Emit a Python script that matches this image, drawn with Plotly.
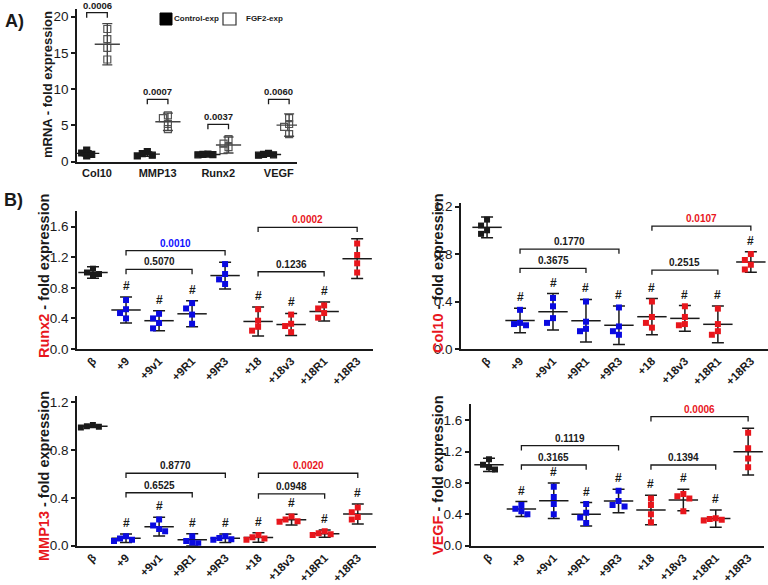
import plotly.graph_objects as go

W, H = 768, 585
FONT = "Liberation Sans, Arial, sans-serif"
BLACK = "#1a1a1a"
BLUE = "#0a0ae0"
RED = "#e8161c"

# ---------------- panel A data ----------------
genes = ["Col10", "MMP13", "Runx2", "VEGF"]
ctrl_points = [[1.6, 1.2, 1.0, 0.8], [1.4, 1.1, 0.9, 0.8], [1.05, 1.0, 0.98, 0.95], [1.15, 1.0, 0.95, 0.9]]
ctrl_mean = [1.15, 1.05, 1.0, 1.0]
ctrl_sd = [0.35, 0.3, 0.06, 0.1]
fgf2_points = [[18.3, 16.9, 15.7, 14.1], [6.4, 6.0, 5.2, 4.5], [3.1, 2.5, 2.0, 1.6], [6.0, 5.2, 4.8, 3.8]]
fgf2_mean = [16.2, 5.5, 2.3, 5.05]
fgf2_sd = [2.85, 1.2, 1.1, 1.55]
gene_pvals = ["0.0006", "0.0007", "0.0037", "0.0060"]
gene_bracket_y = [20.55, 8.6, 5.15, 8.6]

# ---------------- panel B data ----------------
cats = ["β", "+9", "+9v1", "+9R1", "+9R3", "+18", "+18v3", "+18R1", "+18R3"]
cat_groups = ["ref", "9", "9", "9", "9", "18", "18", "18", "18"]

runx2_points = [[1.05, 1.0, 0.98, 0.96], [0.64, 0.52, 0.47, 0.40], [0.46, 0.40, 0.34, 0.27],
                [0.60, 0.53, 0.45, 0.33], [1.11, 0.98, 0.91, 0.85], [0.52, 0.37, 0.29, 0.24],
                [0.45, 0.33, 0.30, 0.22], [0.57, 0.53, 0.47, 0.41], [1.38, 1.23, 1.12, 1.00]]
runx2_mean = [1.0, 0.51, 0.37, 0.46, 0.96, 0.36, 0.32, 0.49, 1.18]
runx2_sd = [0.075, 0.17, 0.13, 0.17, 0.175, 0.19, 0.145, 0.125, 0.26]
runx2_hash = [0, 1, 1, 1, 0, 1, 1, 1, 0]
runx2_tests = [("+9", "+9R1", "0.5070", 1.04, "black"), ("+9", "+9R3", "0.0010", 1.285, "blue"),
               ("+18", "+18R1", "0.1236", 1.01, "black"), ("+18", "+18R3", "0.0002", 1.59, "red")]

col10_points = [[1.09, 1.04, 1.0, 0.97], [0.33, 0.22, 0.21, 0.20], [0.43, 0.36, 0.26, 0.22],
                [0.40, 0.23, 0.17, 0.15], [0.35, 0.19, 0.15, 0.12], [0.40, 0.27, 0.22, 0.18],
                [0.36, 0.27, 0.21, 0.20], [0.34, 0.21, 0.15, 0.12], [0.80, 0.75, 0.71, 0.67]]
col10_mean = [1.025, 0.24, 0.314, 0.238, 0.20, 0.272, 0.258, 0.208, 0.733]
col10_sd = [0.088, 0.104, 0.153, 0.18, 0.163, 0.153, 0.108, 0.155, 0.087]
col10_hash = [0, 1, 1, 1, 1, 1, 1, 1, 1]
col10_tests = [("+9", "+9R1", "0.3675", 0.68, "black"), ("+9", "+9R3", "0.1770", 0.842, "black"),
               ("+18", "+18R1", "0.2515", 0.665, "black"), ("+18", "+18R3", "0.0107", 1.036, "red")]

mmp13_points = [[1.01, 1.0, 0.995, 0.99], [0.08, 0.06, 0.05, 0.04], [0.22, 0.17, 0.14, 0.12],
                [0.08, 0.04, 0.025, 0.02], [0.08, 0.065, 0.055, 0.05], [0.09, 0.07, 0.06, 0.05],
                [0.245, 0.22, 0.205, 0.20], [0.12, 0.105, 0.095, 0.09], [0.32, 0.28, 0.24, 0.22]]
mmp13_mean = [1.0, 0.062, 0.159, 0.05, 0.062, 0.068, 0.218, 0.101, 0.265]
mmp13_sd = [0.01, 0.035, 0.078, 0.05, 0.035, 0.04, 0.045, 0.03, 0.083]
mmp13_hash = [0, 1, 1, 1, 1, 1, 1, 1, 1]
mmp13_tests = [("+9", "+9R1", "0.6525", 0.443, "black"), ("+9", "+9R3", "0.8770", 0.606, "black"),
               ("+18", "+18R1", "0.0948", 0.433, "black"), ("+18", "+18R3", "0.0020", 0.606, "red")]

vegf_points = [[1.10, 1.03, 1.0, 0.97], [0.52, 0.47, 0.44, 0.40], [0.75, 0.62, 0.53, 0.40],
               [0.53, 0.42, 0.36, 0.29], [0.70, 0.57, 0.52, 0.50], [0.60, 0.52, 0.40, 0.30],
               [0.66, 0.63, 0.60, 0.44], [0.35, 0.34, 0.33, 0.32], [1.44, 1.24, 1.11, 1.00]]
vegf_mean = [1.03, 0.467, 0.573, 0.40, 0.57, 0.455, 0.582, 0.345, 1.198]
vegf_sd = [0.085, 0.095, 0.225, 0.15, 0.15, 0.187, 0.138, 0.11, 0.297]
vegf_hash = [0, 1, 1, 1, 1, 1, 1, 1, 0]
vegf_tests = [("+9", "+9R1", "0.3165", 1.028, "black"), ("+9", "+9R3", "0.1119", 1.274, "black"),
              ("+18", "+18R1", "0.1394", 1.028, "black"), ("+18", "+18R3", "0.0006", 1.643, "red")]

group_colors = {"ref": BLACK, "9": BLUE, "18": RED}
text_colors = {"black": BLACK, "blue": "#1010ff", "red": RED}


def px_x(x):
    return x / W


def px_y(y):
    return 1 - y / H


def swarm(vals, ppu_x, ppu_y, size=6.0):
    # small beeswarm so overlapping points sit side by side
    placed, offs = [], []
    for v in vals:
        for k in [0, -1, 1, -2, 2]:
            dx = k * size
            if all(abs(dx - px) >= size or abs(v - pv) * ppu_y >= size for px, pv in placed):
                break
        placed.append((dx, v))
        offs.append(dx / ppu_x)
    return offs


fig = go.Figure()
layout = dict(annotations=[], shapes=[])


def note(x, y, text, size, angle=0, xanchor="center"):
    layout["annotations"].append(dict(x=px_x(x), y=px_y(y), xref="paper", yref="paper",
                                      text=text, textangle=angle, showarrow=False,
                                      xanchor=xanchor, yanchor="middle",
                                      font=dict(size=size, color=BLACK)))


def add_axes(n, box, xrange, yrange, ydtick, yfmt, tickvals, ticktext, tickangle, xfont, standoff=0):
    left, top, right, bottom = box
    xa = "xaxis" if n == 1 else f"xaxis{n}"
    ya = "yaxis" if n == 1 else f"yaxis{n}"
    xid = "x" if n == 1 else f"x{n}"
    yid = "y" if n == 1 else f"y{n}"
    layout[xa] = dict(domain=[px_x(left), px_x(right)], range=xrange, anchor=yid,
                      showline=True, linecolor=BLACK, linewidth=1.6, ticks="",
                      tickvals=tickvals, ticktext=ticktext, tickangle=tickangle,
                      ticklabelstandoff=standoff,
                      tickfont=dict(size=xfont, color=BLACK), showgrid=False, zeroline=False,
                      automargin=False)
    layout[ya] = dict(domain=[px_y(bottom), px_y(top)], range=yrange, anchor=xid,
                      showline=True, linecolor=BLACK, linewidth=1.6, ticks="outside",
                      ticklen=4, tickwidth=1.5, tickcolor=BLACK, dtick=ydtick, tick0=0,
                      tickformat=yfmt, tickfont=dict(size=13.5, color=BLACK),
                      showgrid=False, zeroline=False, automargin=False)
    ppu_x = (right - left) / (xrange[1] - xrange[0])
    ppu_y = (bottom - top) / (yrange[1] - yrange[0])
    return xid, yid, ppu_x, ppu_y


def add_bracket(xid, yid, x0, x1, level, leg, label, color, fsize):
    fig.add_trace(go.Scatter(x=[x0, x0, x1, x1], y=[level - leg, level, level, level - leg],
                             mode="lines", line=dict(color=BLACK, width=1.3),
                             xaxis=xid, yaxis=yid, hoverinfo="skip", showlegend=False))
    layout["annotations"].append(dict(x=(x0 + x1) / 2, y=level, xref=xid, yref=yid,
                                      text=f"<b>{label}</b>", showarrow=False,
                                      xanchor="center", yanchor="bottom",
                                      yshift=0, font=dict(size=fsize, color=color)))


# ---------------- panel A ----------------
xid, yid, pxa, pya = add_axes(1, (77, 9.45, 297, 161.7), [-0.33, 3.3], [0, 21], 5, "d",
                              list(range(4)), [f"<b>{g}</b>" for g in genes], 0, 11)
off = 0.17
for i in range(len(genes)):
    for pts, sign, sym, col, sz in [(ctrl_points[i], -1, "square", BLACK, 6),
                                    (fgf2_points[i], 1, "square-open", "#555555", 7)]:
        jit = swarm(pts, pxa, pya, size=5.0)
        fig.add_trace(go.Scatter(x=[i + sign * off + j for j in jit], y=pts, mode="markers",
                                 marker=dict(symbol=sym, size=sz, color=col, line=dict(width=1.2, color=col)),
                                 xaxis=xid, yaxis=yid, showlegend=False, hoverinfo="skip"))
for means, sds, sign, col in [(ctrl_mean, ctrl_sd, -1, BLACK), (fgf2_mean, fgf2_sd, 1, "#444444")]:
    fig.add_trace(go.Scatter(x=[i + sign * off for i in range(len(genes))], y=means, mode="markers",
                             marker=dict(symbol="line-ew", size=18, line=dict(width=1.4, color=col)),
                             error_y=dict(type="data", array=sds, color=col, thickness=1.4, width=5),
                             xaxis=xid, yaxis=yid, showlegend=False, hoverinfo="skip"))
for i, p in enumerate(gene_pvals):
    add_bracket(xid, yid, i - off, i + off, gene_bracket_y[i], 5 / pya, p, BLACK, 9.5)

note(47, 85, "<b>mRNA - fold expression</b>", 13, -90)
note(3, 21, "<b>A)</b>", 18, xanchor="left")
note(2, 200, "<b>B)</b>", 18, xanchor="left")
# legend
layout["shapes"].append(dict(type="rect", xref="paper", yref="paper", x0=px_x(160), x1=px_x(172),
                             y0=px_y(25), y1=px_y(13), fillcolor="black", line=dict(color="black", width=1)))
layout["shapes"].append(dict(type="rect", xref="paper", yref="paper", x0=px_x(223), x1=px_x(236),
                             y0=px_y(25), y1=px_y(13), fillcolor="white", line=dict(color="#333", width=1.2)))
note(172, 19, "<b>Control-exp</b>", 8, xanchor="left")
note(244, 19, "<b>FGF2-exp</b>", 8, xanchor="left")

# ---------------- panel B ----------------
panels = [
    (2, (77, 211.3, 373, 349), [-0.485, 8.48], [0, 1.8], "Runx2", runx2_points, runx2_mean, runx2_sd,
     runx2_hash, runx2_tests, (44, 276)),
    (3, (461, 203, 768, 349), [-0.79, 8.52], [0, 1.23], "Col10", col10_points, col10_mean, col10_sd,
     col10_hash, col10_tests, (438, 273)),
    (4, (77, 396.3, 376, 545.7), [-0.48, 8.55], [0, 1.25], "MMP13", mmp13_points, mmp13_mean, mmp13_sd,
     mmp13_hash, mmp13_tests, (44, 476)),
    (5, (470.7, 404.4, 764, 545.7), [-0.565, 8.49], [0, 1.8], "VEGF", vegf_points, vegf_mean, vegf_sd,
     vegf_hash, vegf_tests, (438, 475)),
]

for n, box, xr, yr, gene, pts, means, sds, hashes, tests, tpos in panels:
    xid, yid, ppx, ppy = add_axes(n, box, xr, yr, 0.4, ".1f", list(range(len(cats))),
                                  [f"<b>{c}</b>" for c in cats], -45, 11.5, standoff=-1)
    xs, ys, cs = [], [], []
    for i, vals in enumerate(pts):
        for j, v in zip(swarm(vals, ppx, ppy), vals):
            xs.append(i + j)
            ys.append(v)
            cs.append(group_colors[cat_groups[i]])
    fig.add_trace(go.Scatter(x=list(range(len(cats))), y=means, mode="markers",
                             marker=dict(symbol="line-ew", size=21, line=dict(width=1.5, color=BLACK)),
                             error_y=dict(type="data", array=sds, color=BLACK, thickness=1.5, width=6),
                             xaxis=xid, yaxis=yid, showlegend=False, hoverinfo="skip"))
    fig.add_trace(go.Scatter(x=xs, y=ys, mode="markers",
                             marker=dict(symbol="square", size=6, color=cs, line=dict(width=0)),
                             xaxis=xid, yaxis=yid, showlegend=False, hoverinfo="skip"))
    for i, h in enumerate(hashes):
        if h:
            layout["annotations"].append(dict(x=i, y=means[i] + sds[i], xref=xid, yref=yid,
                                              text="<b>#</b>", showarrow=False,
                                              xanchor="center", yanchor="bottom",
                                              yshift=2, font=dict(size=12, color=BLACK)))
    for a, b, label, lvl, col in tests:
        add_bracket(xid, yid, cats.index(a), cats.index(b), lvl, 4.7 / ppy, label,
                    text_colors[col], 10)
    note(tpos[0], tpos[1], f"<b><span style='color:{RED}'>{gene}</span> - fold expression</b>", 14.5, -90)

fig.update_layout(
    width=W, height=H,
    margin=dict(l=0, r=0, t=0, b=0),
    paper_bgcolor="white", plot_bgcolor="white",
    font=dict(family=FONT, color=BLACK),
    showlegend=False,
    template="none",
    **layout,
)

# the page body has a default 8px margin; drop it so the figure sits at the corner
fig.write_html("out.html", config={"displayModeBar": False},
               post_script="document.body.style.margin='0';")
